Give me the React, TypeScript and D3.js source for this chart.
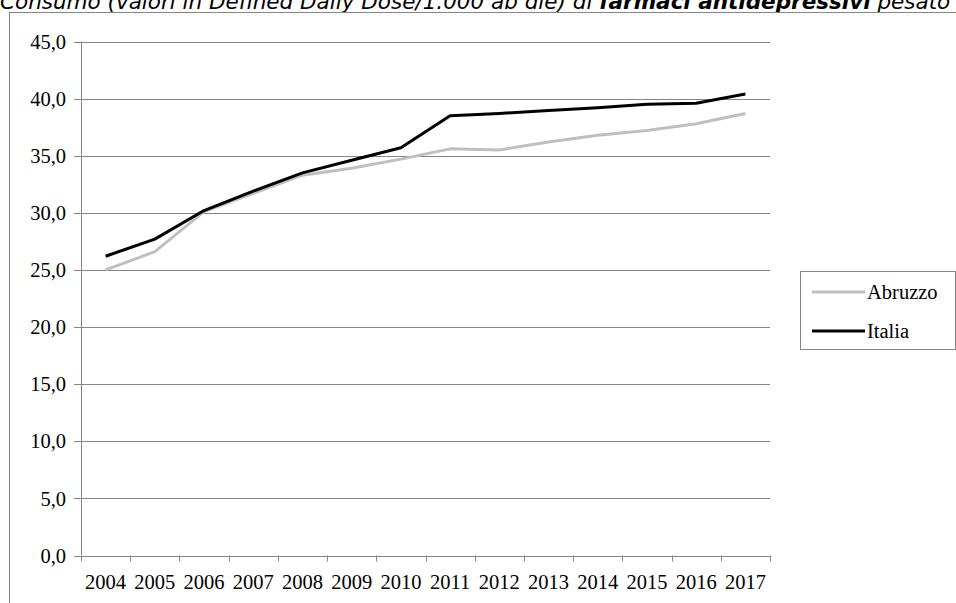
import React from "react";
import * as d3 from "d3";

const years = ["2004","2005","2006","2007","2008","2009","2010","2011","2012","2013","2014","2015","2016","2017"];
const abruzzo = [25.0, 26.6, 30.1, 31.7, 33.3, 33.9, 34.7, 35.6, 35.5, 36.2, 36.8, 37.2, 37.8, 38.7];
const italia = [26.2, 27.7, 30.2, 31.9, 33.5, 34.6, 35.7, 38.5, 38.7, 38.95, 39.2, 39.5, 39.6, 40.4];
const yTicks = [0, 5, 10, 15, 20, 25, 30, 35, 40, 45];
const seriesNames = ["Abruzzo", "Italia"];
const seriesColors = ["#bfbfbf", "#000000"];

export default function App() {
  const W = 956, H = 603;
  const left = 81, right = 770, top = 41.5, bottom = 555.5;
  const x = d3.scaleBand<string>().domain(years).range([left, right]);
  const y = d3.scaleLinear().domain([0, 45]).range([bottom, top]);
  const line = d3.line<number>().x((_, i) => (x(years[i]) as number) + x.bandwidth() / 2).y(d => y(d));
  const serif = "'Liberation Serif', 'Times New Roman', serif";
  const fs = 20.5;
  const data = [abruzzo, italia];
  const boundaries = [...years.map(yr => x(yr) as number), right];
  return (
    <svg width={W} height={H} style={{ position: "absolute", left: 0, top: 0 }}>
      <rect x={0} y={0} width={W} height={H} fill="#fff" />
      <text x={0} y={9} fontFamily="'DejaVu Sans', Verdana, sans-serif" fontSize={21.5} fontStyle="italic" fill="#000">
        Consumo (valori in Defined Daily Dose/1.000 ab die) di <tspan fontWeight="bold">farmaci antidepressivi</tspan> pesato
      </text>
      <rect x={9.5} y={12.5} width={W} height={H} fill="none" stroke="#868686" strokeWidth={1} />
      {yTicks.map(t => (
        <g key={t}>
          <line x1={left - 7} x2={right} y1={Math.round(y(t)) + 0.5} y2={Math.round(y(t)) + 0.5} stroke="#868686" strokeWidth={1} />
          <text x={66} y={y(t)} dy="0.35em" textAnchor="end" fontFamily={serif} fontSize={fs} fill="#000">
            {t.toFixed(1).replace(".", ",")}
          </text>
        </g>
      ))}
      <line x1={left + 0.5} x2={left + 0.5} y1={top} y2={bottom} stroke="#868686" strokeWidth={1} />
      {boundaries.map((bx, i) => (
        <line key={i} x1={Math.round(bx) + 0.5} x2={Math.round(bx) + 0.5} y1={bottom} y2={bottom + 6} stroke="#868686" strokeWidth={1} />
      ))}
      {years.map(yr => (
        <text key={yr} x={(x(yr) as number) + x.bandwidth() / 2} y={582} dy="0.35em" textAnchor="middle" fontFamily={serif} fontSize={fs} fill="#000">
          {yr}
        </text>
      ))}
      {data.map((s, i) => (
        <path key={i} d={line(s) || ""} fill="none" stroke={seriesColors[i]} strokeWidth={3} strokeLinejoin="round" />
      ))}
      <rect x={800.5} y={271.5} width={155} height={78} fill="#fff" stroke="#868686" strokeWidth={1} />
      {seriesNames.map((n, i) => (
        <g key={n}>
          <line x1={812} x2={865} y1={292 + i * 39} y2={292 + i * 39} stroke={seriesColors[i]} strokeWidth={3} />
          <text x={867} y={292 + i * 39} dy="0.35em" fontFamily={serif} fontSize={fs} fill="#000">{n}</text>
        </g>
      ))}
    </svg>
  );
}
